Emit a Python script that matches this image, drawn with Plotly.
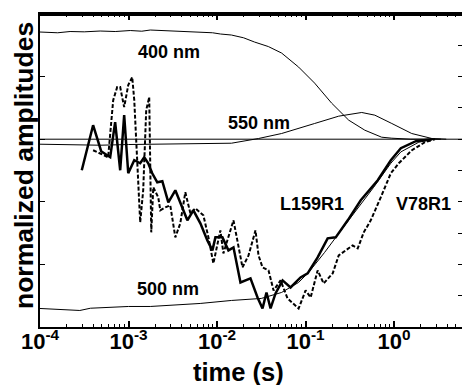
import numpy as np
import plotly.graph_objects as go

# ---- data (log10 of time in s, normalized amplitude) ----
nm400_log_t = [-4.0, -3.8, -3.66, -3.5, -3.32, -3.15, -2.98, -2.85, -2.754, -2.6, -2.47, -2.3, -2.19, -2.05, -1.96,
               -1.837, -1.7, -1.576, -1.42, -1.27, -1.078, -0.897, -0.705, -0.512, -0.33, -0.14, -0.025, 0.19, 0.53]
nm400_amp = [1.712, 1.70, 1.72, 1.715, 1.728, 1.72, 1.736, 1.725, 1.744, 1.735, 1.728, 1.72, 1.712, 1.70, 1.68,
             1.664, 1.62, 1.552, 1.48, 1.376, 1.152, 0.896, 0.576, 0.304, 0.144, 0.032, 0.016, 0.0, 0.0]

nm550_log_t = [-4.0, -3.7, -3.32, -3.0, -2.754, -2.5, -2.19, -1.837, -1.531, -1.27, -0.897, -0.625, -0.365,
               -0.217, -0.025, 0.20, 0.428, 0.59]
nm550_amp = [-0.08, -0.09, -0.096, -0.085, -0.08, -0.085, -0.08, -0.064, 0.011, 0.091, 0.251, 0.368, 0.427,
             0.384, 0.251, 0.091, 0.011, 0.0]

nm500_log_t = [-4.0, -3.77, -3.55, -3.43, -3.21, -3.0, -2.754, -2.53, -2.19, -1.837, -1.50, -1.27, -1.078,
               -0.965, -0.784, -0.59, -0.41, -0.23, -0.036, 0.077, 0.28, 0.46]
nm500_amp = [-2.704, -2.72, -2.736, -2.70, -2.688, -2.672, -2.672, -2.656, -2.624, -2.576, -2.544, -2.448, -2.288,
             -2.128, -1.808, -1.44, -1.104, -0.768, -0.384, -0.203, -0.048, 0.0]

l159_log_t = [-3.528, -3.400, -3.309, -3.207, -3.151, -3.094, -3.049, -3.003, -2.935, -2.868, -2.822, -2.777,
              -2.732, -2.675, -2.618, -2.550, -2.471, -2.415, -2.335, -2.267, -2.188, -2.109, -2.052, -2.018,
              -1.939, -1.871, -1.814, -1.735, -1.622, -1.542, -1.486, -1.441, -1.395, -1.339, -1.259, -1.169,
              -1.056, -0.976, -0.863, -0.750, -0.659, -0.523, -0.376, -0.184, -0.036, 0.077, 0.247, 0.428]
l159_amp = [-0.496, 0.224, -0.192, -0.288, 0.272, -0.496, 0.384, -0.544, -0.336, -0.384, -0.288, -0.384,
            -0.544, -0.688, -0.672, -1.008, -0.816, -1.024, -1.296, -1.136, -1.344, -1.616, -1.776, -1.568,
            -1.568, -1.776, -1.728, -2.288, -2.224, -2.528, -2.704, -2.448, -2.704, -2.464, -2.256, -2.368,
            -2.208, -2.144, -1.888, -1.584, -1.568, -1.296, -0.976, -0.656, -0.336, -0.144, -0.032, 0.0]

v78_log_t = [-3.400, -3.321, -3.230, -3.173, -3.128, -3.094, -3.049, -3.003, -2.958, -2.935, -2.901, -2.868,
             -2.834, -2.800, -2.766, -2.743, -2.720, -2.664, -2.641, -2.584, -2.528, -2.471, -2.415, -2.358,
             -2.301, -2.245, -2.154, -2.097, -2.041, -1.984, -1.962, -1.928, -1.814, -1.712, -1.644, -1.565,
             -1.531, -1.486, -1.418, -1.361, -1.282, -1.203, -1.078, -0.999, -0.942, -0.863, -0.795, -0.693,
             -0.625, -0.467, -0.410, -0.342, -0.263, -0.150, -0.036, 0.054, 0.202, 0.349, 0.462]
v78_amp = [-0.176, -0.224, -0.288, 0.624, 0.832, 0.832, 0.512, 0.864, 0.992, 0.624, -0.336, -1.328,
           -0.816, 0.464, 0.672, -1.488, -0.768, -0.928, -1.136, -1.088, -1.056, -1.568, -1.344, -0.848,
           -1.184, -1.104, -1.216, -1.568, -1.984, -1.616, -1.456, -1.824, -1.296, -2.048, -1.856, -1.456,
           -1.856, -2.048, -2.096, -2.416, -2.256, -2.544, -2.704, -2.416, -2.528, -2.096, -2.304, -2.144,
           -1.856, -1.696, -1.744, -1.488, -1.296, -0.928, -0.544, -0.384, -0.176, -0.048, 0.0]

zero_t = [1e-4, 10 ** 0.8]
zero_amp = [0, 0]

tick_vals = [1e-4, 1e-3, 1e-2, 1e-1, 1]
tick_text = ["10<sup>-4</sup>", "10<sup>-3</sup>", "10<sup>-2</sup>", "10<sup>-1</sup>", "10<sup>0</sup>"]
minor_tick_vals = [m * 10.0 ** e for e in range(-4, 1) for m in range(2, 10)]

FONT = "Liberation Sans, Arial, Helvetica, sans-serif"

def t(vals):
    return 10 ** np.array(vals)

fig = go.Figure()
fig.add_trace(go.Scatter(x=zero_t, y=zero_amp, mode="lines", line=dict(color="black", width=1)))
for lt, amp in [(nm400_log_t, nm400_amp), (nm550_log_t, nm550_amp), (nm500_log_t, nm500_amp)]:
    fig.add_trace(go.Scatter(x=t(lt), y=amp, mode="lines", line=dict(color="black", width=1)))
fig.add_trace(go.Scatter(x=t(l159_log_t), y=l159_amp, mode="lines", line=dict(color="black", width=2.5)))
fig.add_trace(go.Scatter(x=t(v78_log_t), y=v78_amp, mode="lines",
                         line=dict(color="black", width=2, dash="4px,2px")))
# invisible trace to drive the top and right-side tick axes
fig.add_trace(go.Scatter(x=[1e-4], y=[0], xaxis="x2", yaxis="y2", mode="markers",
                         marker=dict(opacity=0), hoverinfo="skip"))

axis_common = dict(showgrid=False, zeroline=False, automargin=False)
fig.update_layout(
    width=462, height=385,
    margin=dict(l=40, r=0, t=14, b=58),
    paper_bgcolor="white", plot_bgcolor="white",
    showlegend=False,
    font=dict(family=FONT, color="black"),
    xaxis=dict(type="log", range=[-4, 0.768], tickvals=tick_vals, ticktext=tick_text,
               ticks="inside", ticklen=6, tickwidth=1.5, tickcolor="black",
               minor=dict(tickvals=minor_tick_vals, ticks="inside", ticklen=3, tickwidth=1,
                          tickcolor="black", showgrid=False),
               showline=True, linecolor="black", linewidth=2, ticklabelstandoff=-6,
               tickfont=dict(size=22, family=FONT, weight="bold"), **axis_common),
    xaxis2=dict(type="log", range=[-4, 0.768], overlaying="x", side="top", tickvals=tick_vals,
                showticklabels=False, ticks="inside", ticklen=6, tickwidth=1.5, tickcolor="black",
                minor=dict(tickvals=minor_tick_vals, ticks="inside", ticklen=3, tickwidth=1,
                           tickcolor="black", showgrid=False),
                showline=True, linecolor="black", linewidth=2, **axis_common),
    yaxis=dict(range=[-3, 2], tickvals=[-2, -1, 0, 1], showticklabels=False,
               ticks="inside", ticklen=5, tickwidth=1, tickcolor="black",
               showline=True, linecolor="black", linewidth=2, **axis_common),
    yaxis2=dict(range=[-3, 2], overlaying="y", side="right", dtick=0.5, tick0=0,
                showticklabels=False, ticks="inside", ticklen=4, tickwidth=1, tickcolor="black",
                showline=False, **axis_common),
)

# top frame line drawn explicitly, just inside the plot area
fig.add_shape(type="line", xref="paper", yref="paper", x0=0, x1=1, y0=0.997, y1=0.997,
              line=dict(color="black", width=2), layer="above")

ann_font = dict(size=18, family=FONT, weight="bold", color="black")
labels = [("400 nm", -2.539, 1.393), ("550 nm", -1.531, 0.259), ("500 nm", -2.55, -2.393),
          ("L159R1", -0.931, -1.035), ("V78R1", 0.337, -1.035)]
for txt, ax_, ay_ in labels:
    fig.add_annotation(x=ax_, y=ay_, xref="x", yref="y", text=txt, showarrow=False, font=ann_font,
                       xanchor="center", yanchor="middle")

fig.add_annotation(xref="paper", yref="paper", x=(238 - 40) / 422, y=-(372 - 327) / 313,
                   text="time (s)", showarrow=False,
                   font=dict(size=25.5, family=FONT, weight="bold", color="black"),
                   xanchor="center", yanchor="middle")
fig.add_annotation(xref="paper", yref="paper", x=-(40 - 24) / 422, y=(327 - 166) / 313,
                   text="normalized amplitudes", textangle=-90, showarrow=False,
                   font=dict(size=26.5, family=FONT, weight="bold", color="black"),
                   xanchor="center", yanchor="middle")

fig.write_html("out.html", config={"displayModeBar": False},
               post_script="document.body.style.margin='0';document.body.style.overflow='hidden';")
